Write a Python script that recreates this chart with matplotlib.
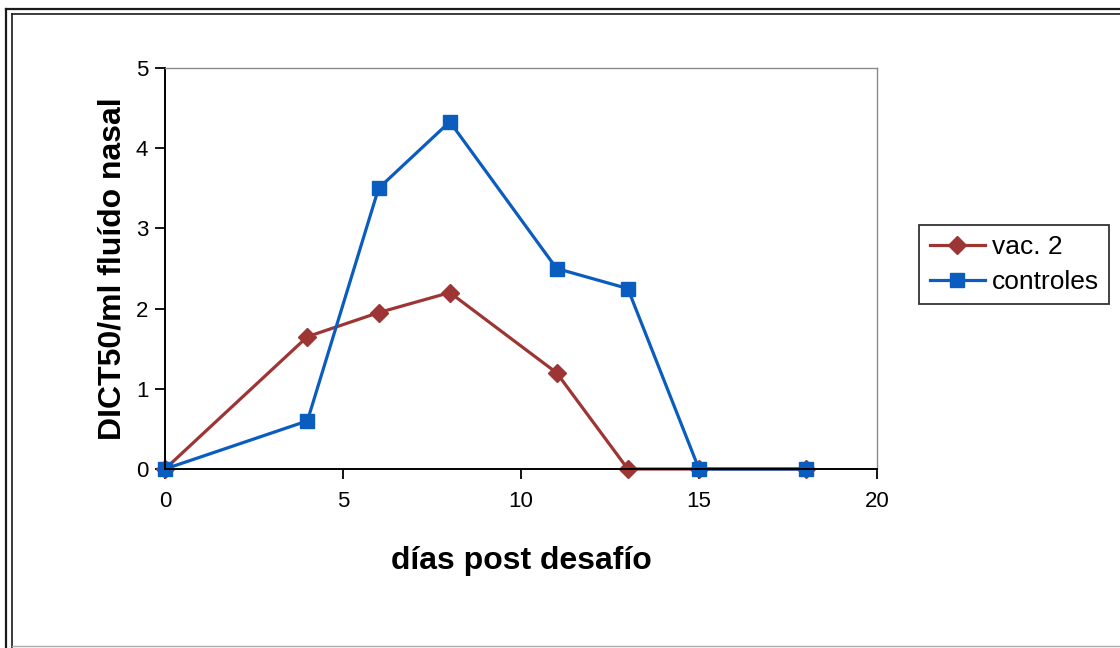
import matplotlib
matplotlib.use("Agg")
import matplotlib.pyplot as plt
from matplotlib.lines import Line2D

# days post challenge and titres per group
dias = [0, 4, 6, 8, 11, 13, 15, 18]
vac2 = [0, 1.65, 1.95, 2.2, 1.2, 0, 0, 0]
controles = [0, 0.6, 3.5, 4.33, 2.5, 2.25, 0, 0]

RED = "#9e3535"
BLUE = "#0a5cbf"

plt.rcParams["font.family"] = ["Liberation Sans", "DejaVu Sans"]

W, H = 1120, 648
fig = plt.figure(figsize=(W / 100, H / 100), dpi=100)
fig.patch.set_facecolor("white")


def fline(xs, ys, **kw):
    # line in pixel coordinates measured from the top-left corner
    fig.add_artist(Line2D([x / W for x in xs], [1 - y / H for y in ys],
                          transform=fig.transFigure, **kw))


# double rule along the top and left edges, thin grey rule at the bottom
fline([6, W], [8.5, 8.5], color="#1a1a1a", lw=1.6)
fline([12, W], [14, 14], color="#1a1a1a", lw=1.2)
fline([6, 6], [8.5, H], color="#1a1a1a", lw=1.6)
fline([12, 12], [14, H], color="#1a1a1a", lw=1.2)
fline([12, W], [645.5, 645.5], color="#aaaaaa", lw=1.0)

ax = fig.add_axes([165 / W, 1 - 469 / H, (877 - 165) / W, (469 - 68) / H])
ax.plot(dias, vac2, color=RED, lw=2.3, marker="D", ms=9.5, label="vac. 2", clip_on=False)
ax.plot(dias, controles, color=BLUE, lw=2.3, marker="s", ms=10.5, label="controles", clip_on=False)

ax.set_xlim(0, 20)
ax.set_ylim(0, 5)
ax.set_xticks([0, 5, 10, 15, 20])
ax.set_yticks([0, 1, 2, 3, 4, 5])
ax.tick_params(axis="both", labelsize=16, length=7, width=1.3, direction="out")
ax.tick_params(axis="x", pad=9)
ax.tick_params(axis="y", pad=5)
for s in ("left", "bottom"):
    ax.spines[s].set_color("black")
    ax.spines[s].set_linewidth(1.4)
for s in ("top", "right"):
    ax.spines[s].set_color("#8a8a8a")
    ax.spines[s].set_linewidth(1.0)

ax.set_xlabel("días post desafío", fontsize=23, fontweight="bold", labelpad=24)
ax.set_ylabel("DICT50/ml fluído nasal", fontsize=23, fontweight="bold", labelpad=6)

leg = ax.legend(loc="center left", bbox_to_anchor=(1.059, 0.51), fontsize=19,
                frameon=True, fancybox=False, edgecolor="black", handlelength=2.1,
                handletextpad=0.25, borderpad=0.4, labelspacing=0.4, borderaxespad=0)
leg.get_frame().set_linewidth(1.3)

fig.savefig("out.png", dpi=100, facecolor="white")
